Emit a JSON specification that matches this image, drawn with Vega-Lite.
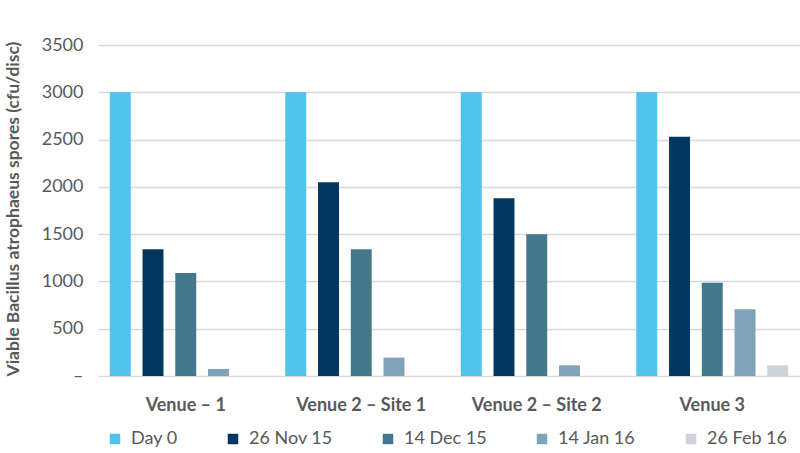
{
  "$schema": "https://vega.github.io/schema/vega-lite/v6.json",
  "width": 702,
  "height": 331,
  "autosize": "none",
  "padding": {"left": 98, "top": 45, "right": 0, "bottom": 77},
  "background": "white",
  "config": {"font": "Lato", "view": {"stroke": null}},
  "data": {
    "values": [
      {"venue": "Venue – 1", "date": "Day 0", "spores": 3000},
      {"venue": "Venue – 1", "date": "26 Nov 15", "spores": 1340},
      {"venue": "Venue – 1", "date": "14 Dec 15", "spores": 1090},
      {"venue": "Venue – 1", "date": "14 Jan 16", "spores": 75},
      {"venue": "Venue 2 – Site 1", "date": "Day 0", "spores": 3000},
      {"venue": "Venue 2 – Site 1", "date": "26 Nov 15", "spores": 2050},
      {"venue": "Venue 2 – Site 1", "date": "14 Dec 15", "spores": 1340},
      {"venue": "Venue 2 – Site 1", "date": "14 Jan 16", "spores": 195},
      {"venue": "Venue 2 – Site 2", "date": "Day 0", "spores": 3000},
      {"venue": "Venue 2 – Site 2", "date": "26 Nov 15", "spores": 1880},
      {"venue": "Venue 2 – Site 2", "date": "14 Dec 15", "spores": 1500},
      {"venue": "Venue 2 – Site 2", "date": "14 Jan 16", "spores": 113},
      {"venue": "Venue 3", "date": "Day 0", "spores": 3000},
      {"venue": "Venue 3", "date": "26 Nov 15", "spores": 2530},
      {"venue": "Venue 3", "date": "14 Dec 15", "spores": 985},
      {"venue": "Venue 3", "date": "14 Jan 16", "spores": 706},
      {"venue": "Venue 3", "date": "26 Feb 16", "spores": 113}
    ]
  },
  "mark": {"type": "bar"},
  "encoding": {
    "x": {
      "field": "venue",
      "type": "nominal",
      "sort": ["Venue – 1", "Venue 2 – Site 1", "Venue 2 – Site 2", "Venue 3"],
      "scale": {"paddingInner": 0, "paddingOuter": 0},
      "axis": {
        "title": null,
        "labelAngle": 0,
        "domain": false,
        "ticks": false,
        "labelFontSize": 18,
        "labelFontWeight": "bold",
        "labelColor": "#58595b",
        "labelPadding": 20
      }
    },
    "xOffset": {
      "field": "date",
      "sort": ["Day 0", "26 Nov 15", "14 Dec 15", "14 Jan 16", "26 Feb 16"],
      "scale": {"paddingInner": 0.36, "paddingOuter": 0.36}
    },
    "y": {
      "field": "spores",
      "type": "quantitative",
      "scale": {"domain": [0, 3500]},
      "axis": {
        "values": [0, 500, 1000, 1500, 2000, 2500, 3000, 3500],
        "format": "d",
        "labelExpr": "datum.value === 0 ? '–' : datum.label",
        "gridColor": "#d9d9d9",
        "gridWidth": 1.5,
        "domain": false,
        "ticks": false,
        "labelPadding": 15,
        "labelFontSize": 18,
        "labelColor": "#58595b",
        "title": "Viable Bacillus atrophaeus spores (cfu/disc)",
        "titleFontSize": 17.5,
        "titleFontWeight": "bold",
        "titleColor": "#58595b",
        "titleAnchor": "start",
        "titlePadding": 19
      }
    },
    "color": {
      "field": "date",
      "type": "nominal",
      "scale": {
        "domain": ["Day 0", "26 Nov 15", "14 Dec 15", "14 Jan 16", "26 Feb 16"],
        "range": ["#4fc3eb", "#00365f", "#44788c", "#7fa3b9", "#cdd2dc"]
      },
      "legend": {
        "orient": "none",
        "legendX": 8,
        "legendY": 385,
        "direction": "horizontal",
        "title": null,
        "symbolType": "square",
        "symbolSize": 110,
        "symbolStrokeWidth": 0,
        "labelFontSize": 18,
        "labelColor": "#58595b",
        "columnPadding": 46,
        "labelOffset": 7
      }
    }
  }
}
